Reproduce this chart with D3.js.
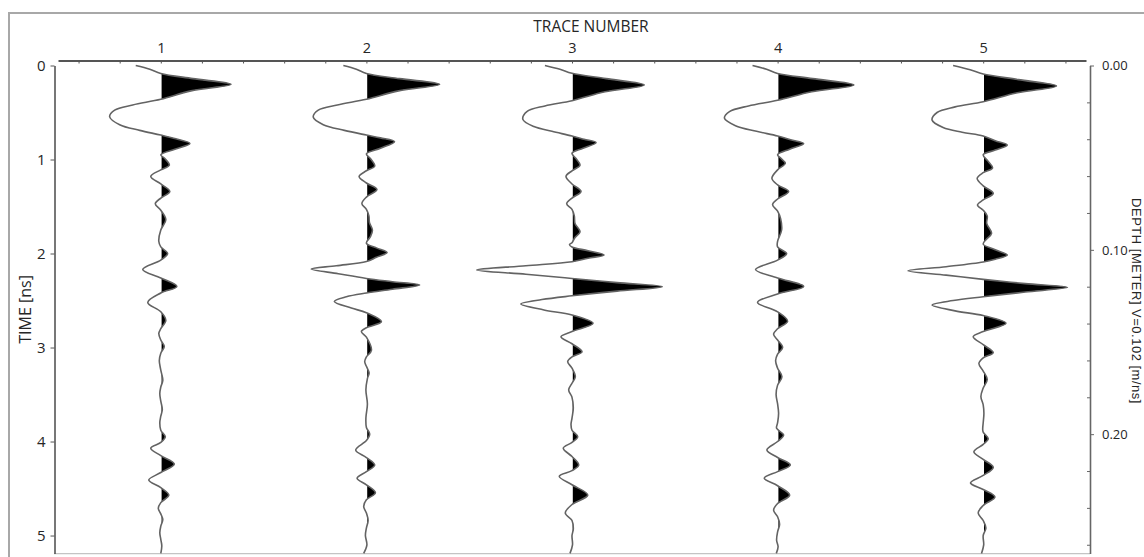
<!DOCTYPE html>
<html>
<head>
<meta charset="utf-8">
<script src="https://cdn.jsdelivr.net/npm/d3@7"></script>
<style>
  html, body { margin: 0; padding: 0; background: #fff; }
  svg { display: block; font-family: "Open Sans", "Noto Sans", sans-serif; }
</style>
</head>
<body>
<svg id="chart" width="1144" height="557"></svg>
<script>
// Trace numbers along the top axis
const traceNumbers = [1, 2, 3, 4, 5];
// Two-way travel time ticks (ns) and depth ticks (m)
const timeTicks = [0, 1, 2, 3, 4, 5];
const depthTicks = [0, 0.1, 0.2];
const velocity = 0.102; // m/ns

// Each trace: [time (ns), amplitude] samples
const trace1 = [
  [0, -25], [0.04, -11], [0.085, 0], [0.14, 32], [0.2, 70], [0.27, 30], [0.36, 0],
  [0.42, -28], [0.475, -46], [0.545, -51], [0.63, -41], [0.69, -21], [0.74, 0],
  [0.78, 15], [0.83, 29], [0.89, 14], [0.95, 0], [0.99, 4], [1.06, 8.5], [1.11, 0],
  [1.18, -10], [1.26, 0], [1.34, 9], [1.41, 0], [1.47, -5.5], [1.54, 0], [1.64, 5],
  [1.75, 0], [1.87, -2], [1.93, 0], [2.0, 6.8], [2.07, 0], [2.17, -18], [2.26, 0],
  [2.35, 16], [2.42, 0], [2.52, -13], [2.62, 0], [2.71, 5], [2.8, 0], [2.85, -2],
  [2.92, 0], [2.99, 3.5], [3.06, 0], [3.14, -1.5], [3.24, 0], [3.35, 2], [3.42, 0],
  [3.49, -1], [3.57, 0], [3.66, 1.5], [3.73, 0], [3.8, -1], [3.88, 0], [3.95, 4.5],
  [4.01, 0], [4.07, -10], [4.15, 0], [4.24, 13.5], [4.33, 0], [4.41, -12], [4.49, 0],
  [4.57, 8], [4.65, 0], [4.71, -2.5], [4.77, 0], [4.83, 2], [4.9, 0], [4.97, -1],
  [5.04, 0], [5.11, 1], [5.19, 0]
];
const trace2 = [
  [0, -23], [0.04, -10], [0.085, 0], [0.14, 33], [0.2, 73], [0.27, 32], [0.36, 0],
  [0.42, -29], [0.475, -48], [0.55, -53], [0.63, -43], [0.69, -22], [0.74, 0],
  [0.77, 14], [0.81, 28], [0.88, 14], [0.94, 0], [0.99, 4], [1.07, 8.3], [1.12, 0],
  [1.18, -7.3], [1.25, 0], [1.32, 10.5], [1.4, 0], [1.47, -4.5], [1.53, 0], [1.6, 2.5],
  [1.67, 3], [1.75, 6], [1.82, 4], [1.89, 0], [1.94, 10], [1.99, 20.6], [2.04, 10],
  [2.085, 0], [2.13, -30], [2.165, -55], [2.215, -28], [2.265, 0], [2.3, 26],
  [2.335, 53], [2.38, 26], [2.42, 0], [2.46, -20], [2.51, -32], [2.58, -15], [2.63, 0],
  [2.725, 15], [2.79, 0], [2.83, -5], [2.89, 0], [3.03, 5], [3.1, 0], [3.15, -1.7],
  [3.2, 0], [3.27, 2.7], [3.33, 1], [3.45, -0.5], [3.6, 1], [3.75, -0.5], [3.85, 0],
  [3.92, 3.3], [3.99, 0], [4.09, -10.7], [4.17, 0], [4.25, 8.3], [4.32, 0],
  [4.39, -9.3], [4.46, 0], [4.545, 9], [4.62, 0], [4.69, -2.7], [4.76, 0], [4.84, 1.7],
  [4.92, 0], [5.0, -1], [5.1, 0.5], [5.19, -2.7]
];
const trace3 = [
  [0, -27], [0.04, -12], [0.083, 0], [0.14, 34], [0.207, 72], [0.28, 33], [0.374, 0],
  [0.43, -27], [0.49, -45], [0.573, -49], [0.65, -38], [0.7, -20], [0.75, 0],
  [0.785, 12], [0.82, 24], [0.88, 11], [0.934, 0], [0.99, 4], [1.06, 8], [1.12, 0],
  [1.18, -6], [1.26, 0], [1.34, 9], [1.41, 0], [1.47, -5.3], [1.53, 0], [1.6, 2.3],
  [1.68, 3], [1.77, 8], [1.83, 3], [1.885, 0], [1.905, -2.5], [1.93, 0], [1.97, 16],
  [2.016, 32], [2.05, 16], [2.087, 0], [2.13, -46], [2.175, -95], [2.22, -46],
  [2.265, 0], [2.31, 45], [2.353, 90], [2.4, 45], [2.45, 0], [2.49, -30], [2.537, -51],
  [2.6, -28], [2.654, 0], [2.743, 21], [2.83, 0], [2.885, -11], [2.96, 0], [3.045, 10],
  [3.1, 0], [3.15, -4.3], [3.22, 0], [3.31, 3.3], [3.38, 0], [3.45, -3.3], [3.53, 0],
  [3.64, 1.3], [3.75, 0], [3.82, -1], [3.88, 0], [3.95, 5.7], [4.01, 0], [4.07, -8.7],
  [4.16, 0], [4.25, 6.7], [4.31, 0], [4.37, -12.7], [4.46, 0], [4.57, 15.7], [4.67, 0],
  [4.76, -6.7], [4.84, 0], [4.93, 1.3], [5.0, 0], [5.1, 0.5], [5.19, -2]
];
const trace4 = [
  [0, -25], [0.04, -11], [0.085, 0], [0.14, 35], [0.207, 76], [0.28, 34], [0.37, 0],
  [0.43, -29], [0.49, -48], [0.56, -53], [0.64, -42], [0.7, -21], [0.75, 0],
  [0.79, 13], [0.83, 26], [0.89, 12], [0.95, 0], [0.99, 3.5], [1.04, 7.7], [1.11, 0],
  [1.2, -5.7], [1.27, 0], [1.34, 11], [1.42, 0], [1.48, -5], [1.55, 0], [1.63, 3],
  [1.75, 4], [1.87, 0], [1.93, 0], [2.0, 9], [2.07, 0], [2.17, -22], [2.26, 0],
  [2.35, 26], [2.43, 0], [2.52, -20], [2.62, 0], [2.72, 10], [2.8, 0], [2.86, -4],
  [2.92, 0], [3.0, 5], [3.07, 0], [3.14, -2], [3.22, 0], [3.31, 4.3], [3.4, 0],
  [3.5, -1.5], [3.6, 0], [3.7, 1], [3.8, 0], [3.86, -1], [3.93, 6], [4.0, 0],
  [4.09, -10.7], [4.17, 0], [4.25, 12.7], [4.32, 0], [4.39, -13.3], [4.47, 0],
  [4.57, 12], [4.66, 0], [4.73, -4], [4.8, 0], [4.88, 2], [4.96, 0], [5.05, -1],
  [5.12, 0.5], [5.19, -1.3]
];
const trace5 = [
  [0, -30], [0.045, -13], [0.09, 0], [0.15, 35], [0.218, 73], [0.29, 34], [0.385, 0],
  [0.44, -28], [0.5, -46], [0.58, -51], [0.66, -40], [0.71, -21], [0.75, 0],
  [0.8, 12], [0.846, 24], [0.9, 12], [0.95, 0], [1.02, 5], [1.09, 9.3], [1.14, 0],
  [1.2, -6], [1.28, 0], [1.36, 10], [1.43, 0], [1.484, -5.7], [1.54, 0], [1.6, 4],
  [1.68, 3.5], [1.785, 8.3], [1.85, 3], [1.9, 0], [1.96, 12], [2.016, 24], [2.06, 12],
  [2.09, 0], [2.14, -37], [2.183, -75], [2.23, -37], [2.275, 0], [2.32, 42], [2.36, 84],
  [2.41, 42], [2.46, 0], [2.5, -30], [2.548, -51], [2.61, -28], [2.66, 0],
  [2.743, 22.7], [2.83, 0], [2.885, -10], [2.97, 0], [3.055, 10], [3.11, 0],
  [3.17, -4.3], [3.25, 0], [3.34, 4], [3.43, 0], [3.52, -2.3], [3.61, 0], [3.7, 0.7],
  [3.8, 0], [3.87, -0.5], [3.9, 0], [3.97, 5], [4.03, 0], [4.11, -9.3], [4.19, 0],
  [4.275, 10], [4.36, 0], [4.44, -12.7], [4.51, 0], [4.59, 11.7], [4.68, 0], [4.76, -5],
  [4.84, 0], [4.92, 2.7], [5.0, 0], [5.1, 0.5], [5.19, -1.7]
];
const traces = [trace1, trace2, trace3, trace4, trace5];

// ---- layout ----
const W = 1144, H = 557;
const TIME_MAX = 5.19;
const AMP_PER_TRACE = 205; // display gain: amplitude units per trace spacing

const svg = d3.select("#chart");

const x = d3.scaleLinear().domain([0.5, 5.5]).range([58, 1086]);
const y = d3.scaleLinear().domain([0, TIME_MAX]).range([65.5, 553.4]);
const depth = d3.scaleLinear().domain([0, velocity * TIME_MAX / 2]).range(y.range());
const amp = d3.scaleLinear().domain([0, AMP_PER_TRACE]).range([0, x(2) - x(1)]);

const axisColor = "#555";
const textColor = "#262626";

// outer frame
svg.append("rect")
  .attr("x", 9).attr("y", 13)
  .attr("width", W).attr("height", H)
  .attr("fill", "none").attr("stroke", "#a8a8a8").attr("stroke-width", 2);

// plot bottom edge
svg.append("line")
  .attr("x1", 54).attr("x2", 1090)
  .attr("y1", y(TIME_MAX) + 0.2).attr("y2", y(TIME_MAX) + 0.2)
  .attr("stroke", "#c4c4c4").attr("stroke-width", 1.2);

// ---- wiggle traces ----
const curve = d3.curveCatmullRom.alpha(0.5);
const defs = svg.append("defs");
const traceG = svg.append("g");

traces.forEach((tr, i) => {
  const base = x(traceNumbers[i]);
  const clipId = "pos-" + i;
  // positive half-plane of the trace (slightly inset so zero-amplitude stretches stay blank)
  defs.append("clipPath").attr("id", clipId)
    .append("rect")
    .attr("x", base + 0.8).attr("y", y(0) - 5)
    .attr("width", x(1.5) - x(1)).attr("height", y(TIME_MAX) - y(0) + 5);

  const area = d3.area()
    .curve(curve)
    .y(d => y(d[0]))
    .x0(base)
    .x1(d => base + amp(d[1]));

  const line = d3.line()
    .curve(curve)
    .x(d => base + amp(d[1]))
    .y(d => y(d[0]));

  traceG.append("path")
    .attr("d", area(tr))
    .attr("fill", "#000")
    .attr("clip-path", `url(#${clipId})`);

  traceG.append("path")
    .attr("d", line(tr))
    .attr("fill", "none")
    .attr("stroke", "#636363")
    .attr("stroke-width", 1.6);
});

// ---- top axis (trace number) ----
const minorTrace = d3.range(0.6, 5.45, 0.2);
const topMinor = svg.append("g")
  .attr("transform", `translate(0,${60.5})`)
  .call(d3.axisBottom(x).tickValues(minorTrace).tickSize(3).tickSizeOuter(0).tickFormat(""));
topMinor.select(".domain").attr("stroke", axisColor).attr("stroke-width", 2);
topMinor.selectAll(".tick line").attr("stroke", axisColor);

const topLabels = svg.append("g")
  .attr("transform", `translate(0,${60.5})`)
  .call(d3.axisTop(x).tickValues(traceNumbers).tickSize(0).tickPadding(8).tickFormat(d3.format("d")));
topLabels.select(".domain").remove();
topLabels.selectAll("text")
  .attr("fill", textColor).style("font-size", "14.5px").style("font-family", "Open Sans");

svg.append("text")
  .attr("x", 591).attr("y", 32)
  .attr("text-anchor", "middle")
  .attr("fill", textColor)
  .style("font-size", "15.5px")
  .text("TRACE NUMBER");

// ---- left axis (time) ----
const leftAxis = svg.append("g")
  .attr("transform", "translate(54.5,0)")
  .call(d3.axisLeft(y).tickValues(timeTicks).tickSize(4).tickSizeOuter(0).tickPadding(5).tickFormat(d3.format("d")));
leftAxis.select(".domain").attr("stroke", axisColor).attr("stroke-width", 1.6);
leftAxis.selectAll(".tick line").attr("stroke", axisColor);
leftAxis.selectAll("text")
  .attr("fill", textColor).style("font-size", "15px").style("font-family", "Open Sans");

svg.append("text")
  .attr("transform", `translate(31,${(y(0) + y(TIME_MAX)) / 2}) rotate(-90)`)
  .attr("text-anchor", "middle")
  .attr("fill", textColor)
  .style("font-size", "16px")
  .text("TIME [ns]");

// ---- right axis (depth) ----
const minorDepth = d3.range(0.02, depth.domain()[1], 0.02)
  .filter(d => Math.abs(d * 10 - Math.round(d * 10)) > 1e-6);
const rightMinor = svg.append("g")
  .attr("transform", "translate(1090,0)")
  .call(d3.axisLeft(depth).tickValues(minorDepth).tickSize(3).tickSizeOuter(0).tickFormat(""));
rightMinor.select(".domain").attr("stroke", "#666").attr("stroke-width", 1.6);
rightMinor.selectAll(".tick line").attr("stroke", "#666");

const rightAxis = svg.append("g")
  .attr("transform", "translate(1090,0)")
  .call(d3.axisRight(depth).tickValues(depthTicks).tickSize(4).tickSizeOuter(0).tickPadding(8).tickFormat(d3.format(".2f")));
rightAxis.select(".domain").remove();
rightAxis.selectAll(".tick line").attr("stroke", "#666");
rightAxis.selectAll("text")
  .attr("fill", textColor).style("font-size", "13px").style("font-family", "Open Sans");

svg.append("text")
  .attr("transform", `translate(1132,301) rotate(90)`)
  .attr("text-anchor", "middle")
  .attr("fill", textColor)
  .style("font-size", "13px")
  .style("letter-spacing", "0.5px")
  .style("font-family", "Liberation Sans")
  .text("DEPTH [METER] V=0.102 [m/ns]");
</script>
</body>
</html>
